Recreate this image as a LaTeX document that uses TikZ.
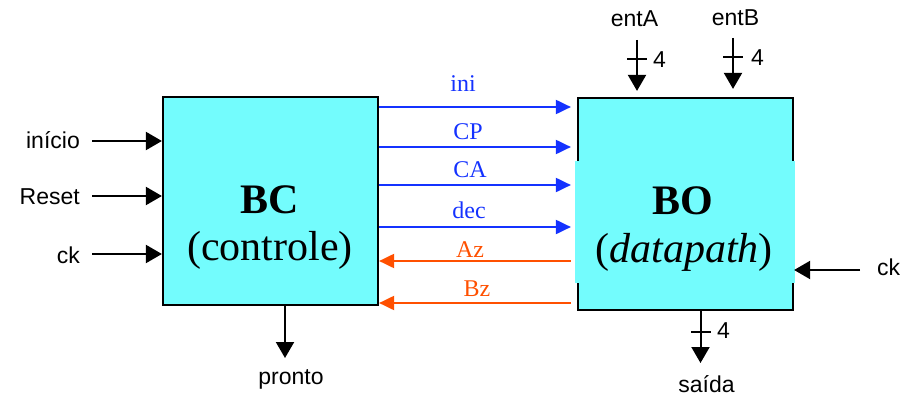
\documentclass[tikz,border=0pt]{standalone}
\usepackage{fontspec}
\setmainfont{Liberation Serif}
\setsansfont{Liberation Sans}
\usetikzlibrary{arrows.meta}
\definecolor{blococyan}{RGB}{115,252,253}
\definecolor{sigblue}{RGB}{20,50,255}
\definecolor{sigorange}{RGB}{255,80,0}

\begin{document}
\begin{tikzpicture}[x=1pt,y=-1pt,
    bloco/.style={draw, line width=2.2pt, fill=blococyan, minimum width=215pt, inner sep=0pt},
    titulo/.style={font=\fontsize{42}{46}\selectfont, anchor=base, inner sep=0pt},
    io/.style={font=\sffamily\fontsize{23}{27}\selectfont, anchor=base, inner sep=0pt},
    sig/.style={font=\fontsize{24}{28}\selectfont, anchor=base, inner sep=0pt},
    fio/.style={line width=2pt, -{Triangle[length=16pt,width=18pt]}},
    azul/.style={line width=2pt, draw=sigblue, -{Triangle[length=15pt,width=14pt]}, shorten >=6pt},
    laranja/.style={line width=2pt, draw=sigorange, -{Triangle[length=15pt,width=14pt]}, shorten <=6pt}]
    \useasboundingbox (0,0) rectangle (913,396);

    % blocos
    \node[bloco, minimum height=208pt] (bc) at (270.5,201) {};
    \node[bloco, minimum height=212pt] (bo) at (685.5,204) {};
    \node[fill=blococyan, minimum width=220pt, minimum height=122pt, inner sep=0pt] (patch) at (685,222) {};
    \node[titulo] (bct) at (270,213) {\textbf{BC}};
    \node[titulo] (bcs) at (270,260) {(controle)};
    \node[titulo] (bot) at (683,214) {\textbf{BO}};
    \node[titulo] (bos) at (684,262) {(\textit{datapath})};

    % sinais de controle
    \foreach \y/\txt/\lx/\ly [count=\i] in {107/ini/463/92, 147/CP/468/139, 185/CA/470/177, 227/dec/469/218} {
        \coordinate (h\i) at (0,\y);
        \draw[azul] (bc.east |- h\i) -- (bo.west |- h\i);
        \node[sig, text=sigblue] (s\i) at (\lx,\ly) {\txt};
    }
    % sinais de estado
    \foreach \y/\txt/\lx/\ly [count=\i] in {261/Az/470/257, 303/Bz/477/296} {
        \coordinate (e\i) at (0,\y);
        \draw[laranja] (bo.west |- e\i) -- (bc.east |- e\i);
        \node[sig, text=sigorange] (z\i) at (\lx,\ly) {\txt};
    }

    % entradas do BC
    \foreach \nome/\txt/\y/\by in {inicio/início/141/148, reset/Reset/196/204, ckc/ck/254/263} {
        \node[io, anchor=base east] (\nome) at (80,\by) {\txt};
        \coordinate (\nome-in) at (92,\y);
        \draw[fio] (\nome-in) -- (bc.west |- \nome-in);
    }
    \node[io] (pronto) at (291,384) {pronto};
    \coordinate (pronto-out) at (285,358);
    \draw[fio] (bc.south -| pronto-out) -- (pronto-out);

    % entradas e saida do BO
    \node[io, anchor=base west] (ckd) at (877,275) {ck};
    \coordinate (ckd-in) at (860,270);
    \draw[fio] (ckd-in) -- (bo.east |- ckd-in);

    \node[io] (entA) at (634.5,27) {entA};
    \node[io] (entB) at (735.5,26) {entB};
    \coordinate (entA-in) at (637,40);
    \coordinate (entB-in) at (733,38);
    \draw[fio, shorten >=6pt] (entA-in) -- (entA-in |- bo.north);
    \draw[fio, shorten >=8pt] (entB-in) -- (entB-in |- bo.north);
    \draw[line width=2pt] (627,59) -- (647,59);
    \draw[line width=2pt] (723,57) -- (743,57);
    \node[io, anchor=base west] (wA) at (653,68) {4};
    \node[io, anchor=base west] (wB) at (751,66) {4};

    \node[io] (saida) at (706.5,392) {saída};
    \coordinate (saida-out) at (700.5,363);
    \draw[fio] (bo.south -| saida-out) -- (saida-out);
    \draw[line width=2pt] (691,332) -- (711,332);
    \node[io, anchor=base west] (wS) at (717,338) {4};
\end{tikzpicture}
\end{document}
